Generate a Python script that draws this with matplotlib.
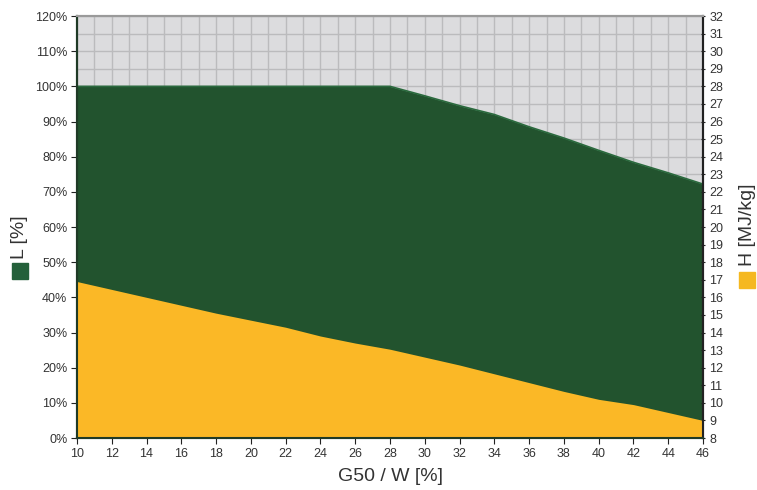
import matplotlib
matplotlib.use('Agg')
import matplotlib.pyplot as plt
from matplotlib.patches import Rectangle
from matplotlib.ticker import MultipleLocator, FuncFormatter

# G50 / W [%]
x = [10, 12, 14, 16, 18, 20, 22, 24, 26, 28, 30, 32, 34, 36, 38, 40, 42, 44, 46]
# L [%]
L = [100, 100, 100, 100, 100, 100, 100, 100, 100, 100,
     97.3, 94.5, 92.0, 88.5, 85.3, 81.8, 78.4, 75.4, 72.2]
# H [MJ/kg]
H = [16.9, 16.45, 16.0, 15.55, 15.1, 14.7, 14.3, 13.8, 13.4, 13.05,
     12.6, 12.15, 11.65, 11.15, 10.65, 10.2, 9.9, 9.45, 9.0]

green = '#22532e'
yellow = '#fbb826'
txt = '#333333'
plt.rcParams['font.family'] = ['Liberation Sans', 'DejaVu Sans']
narrow = ['Liberation Sans Narrow', 'Liberation Sans', 'DejaVu Sans']

fig = plt.figure(figsize=(7.57, 4.9), dpi=100)
ax = fig.add_axes([0.1017, 0.1061, 0.827, 0.8612])
ax.set_facecolor('#dcdcde')

ax.fill_between(x, 0, L, color=green, lw=0, zorder=2)
ax.plot(x, L, color='#2b6a3e', lw=1.2, zorder=3)

ax.set_xlim(10, 46)
ax.set_ylim(0, 120)
ax.xaxis.set_major_locator(MultipleLocator(2))
ax.xaxis.set_minor_locator(MultipleLocator(1))
ax.yaxis.set_major_locator(MultipleLocator(10))
ax.yaxis.set_minor_locator(MultipleLocator(5))
ax.yaxis.set_major_formatter(FuncFormatter(lambda v, p: '%d%%' % v))
ax.grid(which='both', color='#bbbbbd', lw=1.0, zorder=1)
ax.set_axisbelow(True)
ax.tick_params(which='minor', length=0)
ax.tick_params(which='major', length=4, width=0.8, color='#222222',
               labelsize=9, labelcolor=txt, pad=3)

ax2 = ax.twinx()
ax2.fill_between(x, 8, H, color=yellow, lw=0, zorder=2)
ax2.set_ylim(8, 32)
ax2.yaxis.set_major_locator(MultipleLocator(1))
ax2.tick_params(length=3, width=0.8, color='#222222', direction='inout',
                labelsize=9, labelcolor=txt, pad=3)

for a in (ax, ax2):
    a.spines['top'].set_color('#9a9a9a')
    a.spines['top'].set_linewidth(1.5)
    a.spines['left'].set_color('#1f3a26')
    a.spines['left'].set_linewidth(1.5)
    a.spines['right'].set_color('#222222')
    a.spines['right'].set_linewidth(1.5)
    a.spines['bottom'].set_color('#1f3a26')
    a.spines['bottom'].set_linewidth(1.5)

ax.set_xlabel('G50 / W [%]', fontsize=14, color=txt, family=narrow, labelpad=6)

# legend markers
fig.add_artist(Rectangle((12 / 757, 1 - 279 / 490), 16 / 757, 16 / 490,
                         transform=fig.transFigure, color='#24603a'))
fig.text(20 / 757, 1 - 237 / 490, 'L [%]', rotation=90, ha='center', va='center',
         fontsize=14, color=txt, family=narrow)
fig.add_artist(Rectangle((739 / 757, 1 - 288 / 490), 16 / 757, 16 / 490,
                         transform=fig.transFigure, color='#f5b820'))
fig.text(747 / 757, 1 - 225 / 490, 'H [MJ/kg]', rotation=90, ha='center', va='center',
         fontsize=14, color=txt, family=narrow)

fig.savefig('out.png', dpi=100)
